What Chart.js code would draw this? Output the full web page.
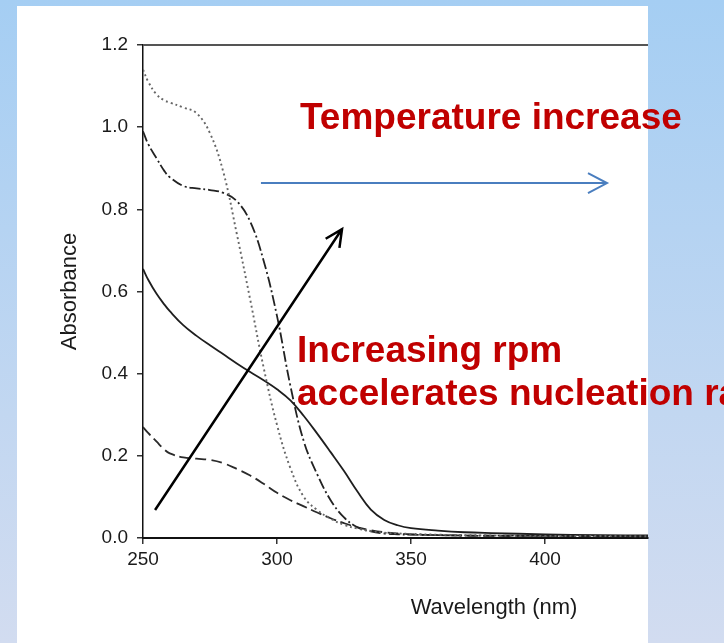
<!DOCTYPE html>
<html>
<head>
<meta charset="utf-8">
<script src="https://cdn.jsdelivr.net/npm/chart.js@4.4.0/dist/chart.umd.min.js"></script>
<style>
  html, body { margin: 0; padding: 0; }
  #wrap { width: 724px; height: 643px; }
</style>
</head>
<body>
<div id="wrap"><canvas id="myChart"></canvas></div>
<script>
// wavelengths (nm) sampled along the spectra
var wavelengths = [250, 252, 255, 258, 260, 265, 270, 275, 280, 285, 290, 295, 300, 305, 310, 315, 320, 325, 330, 335, 340, 345, 350, 360, 370, 380, 400, 420, 440];

// absorbance
var curveDotted  = [1.14, 1.11, 1.08, 1.065, 1.06, 1.048, 1.034, 0.985, 0.89, 0.74, 0.58, 0.415, 0.275, 0.17, 0.10, 0.068, 0.047, 0.032, 0.023, 0.017, 0.013, 0.011, 0.010, 0.008, 0.007, 0.006, 0.005, 0.005, 0.004];
var curveDashDot = [0.99, 0.958, 0.925, 0.893, 0.878, 0.857, 0.851, 0.847, 0.84, 0.82, 0.77, 0.675, 0.54, 0.37, 0.235, 0.155, 0.092, 0.05, 0.026, 0.016, 0.011, 0.009, 0.008, 0.007, 0.006, 0.006, 0.005, 0.005, 0.004];
var curveSolid   = [0.655, 0.628, 0.595, 0.568, 0.552, 0.518, 0.492, 0.469, 0.447, 0.425, 0.404, 0.384, 0.362, 0.335, 0.297, 0.254, 0.209, 0.163, 0.113, 0.069, 0.044, 0.031, 0.024, 0.018, 0.014, 0.012, 0.009, 0.007, 0.006];
var curveDashed  = [0.27, 0.255, 0.235, 0.215, 0.206, 0.196, 0.193, 0.19, 0.182, 0.168, 0.152, 0.132, 0.11, 0.092, 0.077, 0.062, 0.048, 0.036, 0.026, 0.019, 0.014, 0.011, 0.009, 0.007, 0.006, 0.005, 0.005, 0.004, 0.004];

var yTicks = [0, 0.2, 0.4, 0.6, 0.8, 1.0, 1.2];
var xTicks = [250, 300, 350, 400];

function pts(ys) {
  return wavelengths.map(function (x, i) { return { x: x, y: ys[i] }; });
}

var FONT = '"Liberation Sans", Arial, sans-serif';

// slide background, white panel, frame, titles and the overlaid arrows / text
var slidePlugin = {
  id: 'slide',
  beforeDraw: function (chart) {
    var c = chart.ctx, w = chart.width, h = chart.height;
    var g = c.createLinearGradient(0, 0, 0, h);
    g.addColorStop(0, '#a5cef3');
    g.addColorStop(1, '#d2dcf0');
    c.save();
    c.fillStyle = g;
    c.fillRect(0, 0, w, h);
    c.fillStyle = '#ffffff';
    c.fillRect(17, 6, chart.chartArea.right - 17, h - 6);
    c.restore();
  },
  afterDraw: function (chart) {
    var c = chart.ctx, a = chart.chartArea;
    var xs = chart.scales.x, ys = chart.scales.y;
    c.save();
    // top frame line
    c.strokeStyle = '#555';
    c.lineWidth = 2;
    c.beginPath();
    c.moveTo(a.left, a.top);
    c.lineTo(a.right, a.top);
    c.stroke();

    // x axis title
    c.fillStyle = '#1a1a1a';
    c.font = '22px ' + FONT;
    c.textAlign = 'center';
    c.textBaseline = 'middle';
    c.fillText('Wavelength (nm)', 494, 608);

    // blue arrow (temperature)
    var bx0 = xs.getPixelForValue(294), bx1 = xs.getPixelForValue(423.1), by = ys.getPixelForValue(0.864);
    c.strokeStyle = '#4a7ebf';
    c.lineWidth = 2;
    c.beginPath();
    c.moveTo(bx0, by);
    c.lineTo(bx1, by);
    c.moveTo(bx1 - 19, by - 10);
    c.lineTo(bx1, by);
    c.lineTo(bx1 - 19, by + 10);
    c.stroke();

    // black arrow (rpm)
    var kx0 = xs.getPixelForValue(254.5), ky0 = ys.getPixelForValue(0.068);
    var kx1 = xs.getPixelForValue(324.25), ky1 = ys.getPixelForValue(0.752);
    var ang = Math.atan2(ky1 - ky0, kx1 - kx0);
    c.strokeStyle = '#000';
    c.lineWidth = 2.5;
    c.beginPath();
    c.moveTo(kx0, ky0);
    c.lineTo(kx1, ky1);
    c.moveTo(kx1 - 19 * Math.cos(ang - 0.45), ky1 - 19 * Math.sin(ang - 0.45));
    c.lineTo(kx1, ky1);
    c.lineTo(kx1 - 19 * Math.cos(ang + 0.45), ky1 - 19 * Math.sin(ang + 0.45));
    c.stroke();

    // red annotations
    c.fillStyle = '#c00000';
    c.font = 'bold 37px ' + FONT;
    c.textAlign = 'left';
    c.textBaseline = 'alphabetic';
    c.fillText('Temperature increase', 300, 129);
    c.fillText('Increasing rpm', 297, 362);
    c.fillText('accelerates nucleation rate', 297, 405);
    c.restore();
  }
};

var ctx = document.getElementById('myChart').getContext('2d');
var chart = new Chart(ctx, {
  type: 'line',
  data: {
    datasets: [
      { data: pts(curveDotted), borderColor: '#666', borderWidth: 1.9, borderDash: [2, 3] },
      { data: pts(curveDashDot), borderColor: '#222', borderWidth: 1.8, borderDash: [11, 3, 2, 3] },
      { data: pts(curveSolid), borderColor: '#1e1e1e', borderWidth: 1.8 },
      { data: pts(curveDashed), borderColor: '#2a2a2a', borderWidth: 1.8, borderDash: [11, 5] }
    ]
  },
  options: {
    responsive: true,
    maintainAspectRatio: false,
    animation: false,
    layout: { padding: { left: 0, top: 45, right: 76, bottom: 0 } },
    elements: {
      point: { radius: 0 },
      line: { tension: 0.4, fill: false }
    },
    plugins: { legend: { display: false }, tooltip: { enabled: false } },
    scales: {
      x: {
        type: 'linear',
        min: 250,
        max: 438.4,
        afterFit: function (s) { s.height = 105; },
        afterBuildTicks: function (s) { s.ticks = xTicks.map(function (v) { return { value: v }; }); },
        ticks: { font: { family: FONT, size: 19 }, color: '#1a1a1a', padding: 4, maxRotation: 0 },
        grid: { drawOnChartArea: false, drawTicks: true, tickLength: 6, color: '#333', lineWidth: 1.5 },
        border: { display: true, color: '#111', width: 2 }
      },
      y: {
        min: 0,
        max: 1.2,
        afterFit: function (s) { s.width = 143; },
        afterBuildTicks: function (s) { s.ticks = yTicks.map(function (v) { return { value: v }; }); },
        ticks: {
          font: { family: FONT, size: 19 }, color: '#1a1a1a', padding: 9,
          callback: function (v) { return v.toFixed(1); }
        },
        grid: { drawOnChartArea: false, drawTicks: true, tickLength: 6, color: '#333', lineWidth: 1.5 },
        border: { display: true, color: '#111', width: 1.5 },
        title: {
          display: true, text: 'Absorbance', color: '#1a1a1a',
          font: { family: FONT, size: 22 }, padding: { top: 57, bottom: 0 }
        }
      }
    }
  },
  plugins: [slidePlugin]
});
</script>
</body>
</html>
